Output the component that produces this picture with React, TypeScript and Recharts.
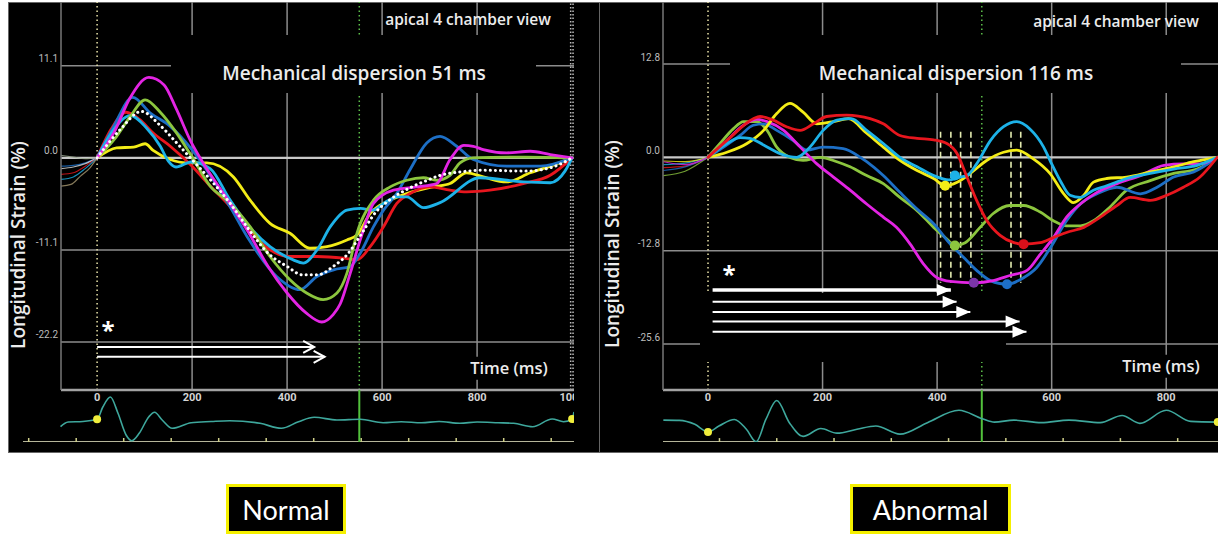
import { LineChart, Line, XAxis, YAxis, ReferenceLine, ReferenceDot } from 'recharts'

type Pt = [number, number]

// ---------- Normal (left): time (ms) vs longitudinal strain (%) ----------
const normalTimeTicks = [0, 200, 400, 600, 800, 1000]
const normalStrainTicks = [11.1, 0, -11.1, -22.2]
const normalGridTimes = [200, 400, 600, 800]
const normalAvcTime = 552
const normalEndTimes = [997, 1002]

const normalRed: Pt[] = [[0, 0], [30, 3.5], [61, 5.5], [90, 4.6], [118, 3.0], [154, 1.4], [198, -0.9], [238, -3.4], [279, -5.8], [319, -8.6], [364, -11.1], [406, -11.9], [463, -11.9], [519, -12.1], [547, -12.3], [575, -10.7], [603, -8.3], [631, -5.5], [659, -4.3], [701, -3.5], [743, -3.9], [778, -4.1], [827, -3.9], [897, -3.1], [954, -2.1], [1000, 0]]
const normalBlue: Pt[] = [[0, 0], [35, 3.8], [75, 7.3], [112, 5.4], [154, 3.8], [198, 1.1], [238, -2.1], [279, -5.8], [319, -9.8], [378, -14.3], [427, -15.9], [463, -14.3], [498, -13.5], [533, -13.1], [554, -11.5], [582, -8.3], [603, -6.3], [631, -4.3], [659, -1.4], [694, 1.8], [722, 2.6], [757, 1.4], [792, -0.2], [862, -1.0], [933, -1.0], [1000, 0]]
const normalCyan: Pt[] = [[0, 0], [30, 3.0], [70, 5.1], [104, 3.6], [133, 1.4], [150, -0.4], [166, -1.1], [198, -0.5], [238, -1.3], [279, -5.0], [319, -8.2], [364, -10.7], [413, -12.3], [434, -12.7], [463, -11.1], [491, -8.3], [526, -6.3], [554, -6.1], [582, -6.3], [603, -5.5], [631, -4.7], [652, -4.7], [687, -6.0], [722, -5.4], [806, -2.4], [897, -2.9], [954, -3.0], [985, -1.6], [1000, 0]]
const normalMagenta: Pt[] = [[0, 0], [36, 3.1], [69, 7.2], [109, 9.7], [141, 8.8], [166, 6.0], [198, 1.9], [222, -0.5], [279, -5.4], [319, -9.0], [360, -13.1], [400, -16.3], [440, -18.7], [473, -19.8], [497, -18.9], [512, -17.6], [533, -13.9], [554, -9.9], [582, -5.5], [624, -3.9], [673, -3.5], [715, -3.1], [743, -0.2], [772, 1.5], [792, 1.4], [813, 1.0], [862, 0.6], [912, 0.8], [954, 0.4], [1000, 0]]
const normalGreen: Pt[] = [[0, 0], [40, 2.5], [70, 5.0], [101, 7.0], [133, 5.5], [166, 3.1], [198, 0.3], [238, -3.4], [279, -5.4], [322, -8.3], [364, -11.9], [406, -14.7], [441, -16.3], [476, -17.1], [505, -16.3], [526, -13.9], [547, -9.1], [582, -5.1], [617, -3.5], [652, -2.7], [687, -2.4], [715, -2.7], [743, -2.1], [764, -0.6], [792, 0], [900, 0.1], [1000, 0]]
const normalYellow: Pt[] = [[0, 0], [41, 1.2], [77, 1.3], [101, 1.7], [118, 0.9], [154, -0.2], [189, -0.6], [231, -0.6], [287, -2.3], [322, -5.1], [364, -7.9], [406, -9.1], [448, -10.9], [484, -10.7], [526, -9.9], [547, -9.3], [575, -6.7], [617, -5.1], [652, -4.3], [707, -3.5], [743, -3.1], [778, -1.8], [813, -2.3], [862, -2.9], [912, -1.8], [954, -1.0], [1000, 0]]
const normalAverage: Pt[] = [[0, 0], [50, 3.5], [93, 5.6], [133, 3.9], [166, 1.9], [198, -0.1], [238, -2.6], [279, -5.4], [319, -8.6], [360, -11.5], [400, -13.1], [432, -14.1], [465, -14.1], [497, -13.1], [529, -11.5], [554, -9.4], [586, -6.6], [618, -5.0], [659, -3.6], [691, -2.8], [723, -2.1], [764, -1.7], [812, -1.5], [900, -1.6], [954, -1.2], [1000, 0]]

// pre-trigger segments (thin)
const normalTailGreen: Pt[] = [[-76, 0.3], [-50, 0.1], [-25, -0.1], [0, 0]]
const normalTailBlue: Pt[] = [[-76, -1.0], [-50, -0.9], [-25, -0.6], [0, 0]]
const normalTailWhite: Pt[] = [[-76, -1.3], [-50, -1.1], [-25, -0.7], [0, 0]]
const normalTailRed: Pt[] = [[-76, -2.0], [-50, -1.8], [-25, -1.0], [0, 0]]
const normalTailCyan: Pt[] = [[-76, -2.6], [-50, -2.3], [-25, -1.3], [0, 0]]
const normalTailTan: Pt[] = [[-76, -3.4], [-55, -3.2], [-35, -2.2], [-15, -1.2], [0, 0]]

const normalArrows: Pt[] = [[457, -22.8], [479, -24.0]] // [end time, level], all start at 0
const normalArrowStart = 0

const normalEcg: Pt[] = [[-77, -4.7], [-61, 0], [-30, 0.5], [0, 2.7], [12, 15], [28, 25], [44, 8.7], [61, -13], [73, -18.7], [89, -11], [109, 5.3], [121, 9.7], [137, 2], [158, -6.3], [198, -0.7], [240, 0.5], [279, 1.3], [343, -1.3], [388, -6.3], [424, 0.3], [457, 4.7], [505, 2], [554, 2.7], [602, -0.7], [640, 0.3], [683, -0.7], [720, 0.5], [764, -1.3], [800, 0], [844, -0.7], [877, -1.3], [917, -4.7], [958, 3], [982, 0.3], [1000, 3], [1004, 10]]
const normalEcgMarks: Pt[] = [[0, 2.7], [1000, 3]]
const normalEcgTicks = [-144, -44, 56, 156, 256, 356, 456, 556, 656, 756, 856, 956]

// ---------- Abnormal (right) ----------
const abnTimeTicks = [0, 200, 400, 600, 800]
const abnStrainTicks = [12.8, 0, -12.8, -25.6]
const abnGridTimes = [200, 400, 600, 800]
const abnAvcTime = 478

const abnYellow: Pt[] = [[0, 0], [33, 0.7], [68, 1.9], [97, 3.7], [120, 6.0], [143, 7.4], [166, 6.2], [190, 4.6], [219, 4.9], [245, 5.3], [277, 3.3], [306, 1.4], [335, -0.4], [365, -1.8], [394, -2.9], [414, -3.9], [435, -3.4], [458, -2.2], [487, -0.4], [516, 0.7], [539, 1.0], [568, -0.2], [597, -2.2], [621, -5.0], [638, -6.2], [656, -5.2], [673, -3.4], [696, -2.9], [731, -2.7], [772, -2.0], [813, -1.3], [848, -0.6], [889, 0]]
const abnCyan: Pt[] = [[0, 0], [33, 1.9], [56, 2.7], [73, 2.6], [97, 1.7], [126, 0.5], [155, 0], [178, 1.4], [201, 3.7], [225, 5.1], [250, 5.3], [277, 3.7], [306, 1.9], [335, 0], [365, -1.3], [394, -2.5], [420, -3.1], [440, -2.7], [452, -2.5], [469, -0.9], [493, 2.3], [516, 4.2], [539, 4.9], [562, 3.9], [586, 1.4], [597, -0.4], [615, -3.2], [632, -5.2], [650, -5.5], [673, -4.5], [696, -3.9], [731, -2.9], [772, -2.2], [813, -1.6], [854, -1.1], [889, 0]]
const abnRed: Pt[] = [[0, 0], [40, 2.8], [79, 5.3], [91, 5.6], [114, 5.1], [137, 4.2], [161, 3.7], [184, 4.6], [207, 5.6], [242, 5.8], [283, 5.3], [306, 4.6], [335, 3.0], [365, 2.6], [394, 2.4], [417, 1.9], [435, 0.5], [452, -2.7], [469, -5.9], [487, -8.7], [510, -10.7], [534, -11.7], [551, -11.9], [580, -11.7], [603, -11.0], [626, -10.3], [656, -9.6], [685, -8.2], [714, -6.6], [737, -5.5], [772, -5.9], [801, -5.2], [830, -4.1], [859, -2.7], [889, 0]]
const abnGreen: Pt[] = [[0, 0], [21, 1.9], [44, 3.9], [62, 4.9], [85, 4.9], [103, 3.7], [120, 1.4], [143, 0], [166, -0.4], [196, 0], [225, -0.6], [248, -1.3], [277, -2.5], [306, -3.6], [335, -5.5], [365, -7.3], [394, -9.6], [417, -11.2], [431, -12.1], [449, -11.7], [475, -9.6], [498, -7.7], [527, -6.6], [551, -6.6], [580, -7.5], [603, -8.7], [626, -9.4], [650, -9.4], [673, -8.7], [702, -6.8], [731, -4.5], [772, -3.2], [813, -2.2], [854, -1.6], [889, 0]]
const abnBlue: Pt[] = [[0, 0], [33, 1.7], [56, 3.0], [79, 4.4], [97, 4.6], [120, 3.7], [149, 2.3], [172, 1.0], [201, 1.4], [236, 1.2], [266, 0], [277, -0.6], [306, -2.5], [335, -4.8], [365, -7.1], [394, -9.1], [423, -11.9], [446, -13.7], [469, -15.5], [493, -16.9], [522, -17.4], [551, -16.5], [574, -15.1], [597, -12.5], [626, -8.7], [650, -6.4], [679, -5.0], [714, -4.1], [755, -5.0], [784, -4.1], [813, -2.7], [848, -2.0], [889, 0]]
const abnMagenta: Pt[] = [[0, 0], [33, 2.3], [62, 4.4], [85, 5.2], [103, 4.9], [132, 3.7], [161, 1.4], [190, -0.9], [219, -2.7], [245, -4.3], [277, -6.4], [306, -8.2], [329, -9.6], [353, -11.9], [376, -14.6], [400, -16.5], [423, -17.0], [464, -17.2], [498, -16.9], [527, -16.2], [557, -15.5], [580, -13.3], [603, -11.0], [626, -8.2], [650, -6.4], [679, -4.8], [714, -3.6], [755, -2.5], [796, -1.1], [830, -0.9], [859, -0.9], [889, 0]]

const abnTailRed: Pt[] = [[-78, -1.4], [-40, -1.2], [0, 0]]
const abnTailCyan: Pt[] = [[-78, -1.0], [-40, -0.8], [0, 0]]
const abnTailYellow: Pt[] = [[-78, -0.5], [-40, -0.6], [0, 0]]
const abnTailGreen: Pt[] = [[-78, -2.5], [-40, -1.9], [0, 0]]
const abnTailBlue: Pt[] = [[-78, -1.8], [-40, -1.3], [0, 0]]
const abnTailMagenta: Pt[] = [[-78, -0.6], [-40, -1.0], [0, 0]]

// time-to-peak markers
const abnPeakYellow: Pt = [414, -3.9]
const abnPeakCyan: Pt = [431, -2.5]
const abnPeakGreen: Pt = [431, -12.1]
const abnPeakPurple: Pt = [464, -17.2]
const abnPeakBlue: Pt = [522, -17.4]
const abnPeakRed: Pt = [551, -11.9]
const abnPeakDashTimes = [406, 424, 441, 459, 529, 546]
const abnPeakDashRange: Pt = [3.5, -17.2]

const abnArrows: Pt[] = [[424, -18.2], [434, -19.8], [458, -21.2], [544, -22.5], [556, -23.9]]
const abnArrowStart = 8

const abnEcg: Pt[] = [[-78, 0.3], [-50, 0], [-23, -4], [0, -11.7], [19, -5.7], [46, 1], [67, -9], [84, -21.7], [101, 1], [120, 20.3], [142, -2.3], [166, -16.3], [197, -8.3], [225, -13], [260, -9], [293, -5.7], [335, -14], [383, -2.3], [438, 10.3], [479, 1.7], [500, -1.7], [534, 0.3], [582, -2.3], [630, 0.3], [685, -2.3], [723, 5], [754, -3], [800, 10.3], [843, -1], [890, -1.7]]
const abnEcgMarks: Pt[] = [[0, -11.7], [890, -1.7]]
const abnEcgTicks = [20, 120, 220, 320, 420, 520, 620, 720, 820]

// ---------- styling ----------
const C = {
  red: '#e8161e',
  blue: '#1d6fc6',
  cyan: '#1db2e8',
  magenta: '#e324e3',
  green: '#8cc63e',
  yellow: '#f3ec17',
  white: '#ffffff',
  tan: '#a89870',
  purple: '#7b35a8',
  grid: '#8c8c8c',
  zero: '#c8c8c8',
  ecg: '#3ea79c',
}

const TOP = 2
const PLOT_H = 388
const XAXIS_H = 20
const ECG_TOP = 390
const ECG_H = 52
const TICK_FONT = "'Liberation Sans Narrow', 'Arial Narrow', Roboto, sans-serif"
const TEXT_FONT = "'Open Sans', 'Noto Sans', sans-serif"

interface Series { color: string; pts: Pt[]; dotted?: boolean }
interface PanelCfg {
  left: number
  width: number
  axisW: number
  xDomain: [number, number]
  yDomain: [number, number]
  xTicks: number[]
  yTicks: number[]
  gridTimes: number[]
  avcTime: number
  endTimes: number[]
  tails: Series[]
  series: Series[]
  markers: { pt: Pt; color: string }[]
  dashTimes: number[]
  dashRange: Pt
  arrows: Pt[]
  arrowStart: number
  filledHeads: boolean
  ecg: Pt[]
  ecgMarks: Pt[]
  ecgTicks: number[]
  ecgLeft: number
  ecgAxisW: number
  ecgXDomain: [number, number]
  ecgYDomain: [number, number]
}

const rows = (pts: Pt[]) => pts.map(([t, v]) => ({ t, v }))

const arrowHead = (filled: boolean) => (p: any) => {
  const { cx, cy, index } = p
  if (index !== 1 || cx == null) return <g key={`n${index}`} />
  return filled ? (
    <path key="h" d={`M${cx - 14},${cy - 6} L${cx},${cy} L${cx - 14},${cy + 6} Z`} fill="#fff" />
  ) : (
    <path key="h" d={`M${cx - 11},${cy - 6} L${cx},${cy} L${cx - 11},${cy + 6}`} fill="none" stroke="#fff" strokeWidth={2} />
  )
}

function StrainPanel({ cfg }: { cfg: PanelCfg }) {
  const chartH = PLOT_H + XAXIS_H
  return (
    <>
      {/* main strain chart */}
      <div style={{ position: 'absolute', left: cfg.left, top: TOP }}>
        <LineChart width={cfg.width} height={chartH} margin={{ top: 0, right: 0, bottom: 0, left: 0 }}>
          <XAxis
            type="number"
            dataKey="t"
            domain={cfg.xDomain}
            allowDataOverflow
            ticks={cfg.xTicks}
            interval={0}
            height={XAXIS_H}
            tickLine={false}
            tickSize={0}
            tickMargin={3}
            axisLine={{ stroke: '#a3a3a3', strokeWidth: 2.5 }}
            tick={{ fill: '#d4d4d4', fontSize: 11, fontWeight: 700, fontFamily: TICK_FONT }}
          />
          <YAxis
            type="number"
            domain={cfg.yDomain}
            allowDataOverflow
            ticks={cfg.yTicks}
            interval={0}
            width={cfg.axisW}
            tickLine={false}
            tickSize={0}
            tickMargin={3}
            tickFormatter={(v: number) => v.toFixed(1)}
            axisLine={{ stroke: '#777', strokeWidth: 1.5 }}
            tick={{ fill: '#bdbdbd', fontSize: 10, fontFamily: TICK_FONT, dy: -7 }}
          />
          {cfg.gridTimes.map((t) => (
            <ReferenceLine key={`gx${t}`} x={t} stroke={C.grid} strokeWidth={1.5} />
          ))}
          {cfg.yTicks.map((v) => (
            <ReferenceLine key={`gy${v}`} y={v} stroke={v === 0 ? C.zero : C.grid} strokeWidth={v === 0 ? 2.2 : 1.5} />
          ))}
          <ReferenceLine x={0} stroke="#e8e2a8" strokeWidth={1.5} strokeDasharray="1.5 3" />
          <ReferenceLine x={cfg.avcTime} stroke="#5cbf4a" strokeWidth={1.5} strokeDasharray="1.5 3" />
          {cfg.endTimes.map((t) => (
            <ReferenceLine key={`e${t}`} x={t} stroke="#bbb" strokeWidth={1.5} strokeDasharray="1.5 2" />
          ))}
          {cfg.dashTimes.map((t) => (
            <ReferenceLine
              key={`d${t}`}
              segment={[{ x: t, y: cfg.dashRange[0] }, { x: t, y: cfg.dashRange[1] }]}
              stroke="#e3ebb0"
              strokeWidth={1.6}
              strokeDasharray="6 4"
            />
          ))}
          {cfg.tails.map((s, i) => (
            <Line
              key={`tail${i}`}
              data={rows(s.pts)}
              dataKey="v"
              type="monotone"
              stroke={s.color}
              strokeWidth={1.2}
              strokeOpacity={0.8}
              dot={false}
              isAnimationActive={false}
            />
          ))}
          {cfg.series.map((s, i) => (
            <Line
              key={`s${i}`}
              data={rows(s.pts)}
              dataKey="v"
              type="monotone"
              stroke={s.color}
              strokeWidth={s.dotted ? 3 : 2.8}
              strokeDasharray={s.dotted ? '0.1 5' : undefined}
              strokeLinecap="round"
              dot={false}
              isAnimationActive={false}
            />
          ))}
          {cfg.markers.map((m, i) => (
            <ReferenceDot key={`m${i}`} x={m.pt[0]} y={m.pt[1]} r={5} fill={m.color} stroke="none" />
          ))}
        </LineChart>
      </div>

      {/* ECG strip */}
      <div style={{ position: 'absolute', left: cfg.ecgLeft, top: ECG_TOP }}>
        <LineChart width={cfg.width + cfg.left - cfg.ecgLeft} height={ECG_H} margin={{ top: 0, right: 0, bottom: 0, left: 0 }}>
          <XAxis type="number" dataKey="t" domain={cfg.ecgXDomain} allowDataOverflow hide />
          <YAxis type="number" domain={cfg.ecgYDomain} allowDataOverflow width={cfg.ecgAxisW} tick={false} axisLine={false} tickLine={false} />
          <ReferenceLine y={cfg.ecgYDomain[0]} stroke="#b5b59a" strokeWidth={2} />
          {cfg.ecgTicks.map((t) => (
            <ReferenceLine
              key={`et${t}`}
              segment={[{ x: t, y: cfg.ecgYDomain[0] }, { x: t, y: cfg.ecgYDomain[0] + 4 }]}
              stroke="#d0d08a"
              strokeWidth={1.5}
            />
          ))}
          <ReferenceLine x={cfg.avcTime} stroke="#52c23c" strokeWidth={2} />
          <Line data={rows(cfg.ecg)} dataKey="v" type="monotone" stroke={C.ecg} strokeWidth={1.6} dot={false} isAnimationActive={false} />
          {cfg.ecgMarks.map((m, i) => (
            <ReferenceDot key={`em${i}`} x={m[0]} y={m[1]} r={4} fill="#f0ee3c" stroke="none" />
          ))}
        </LineChart>
      </div>
    </>
  )
}

function ArrowLayer({ cfg }: { cfg: PanelCfg }) {
  return (
    <div style={{ position: 'absolute', left: cfg.left, top: TOP }}>
      <LineChart width={cfg.width} height={PLOT_H + XAXIS_H} margin={{ top: 0, right: 0, bottom: 0, left: 0 }}>
        <XAxis type="number" dataKey="t" domain={cfg.xDomain} allowDataOverflow height={XAXIS_H} tick={false} axisLine={false} tickLine={false} />
        <YAxis type="number" domain={cfg.yDomain} allowDataOverflow width={cfg.axisW} tick={false} axisLine={false} tickLine={false} />
        {cfg.arrows.map(([end, v], i) => (
          <Line
            key={`ar${i}`}
            data={rows([[cfg.arrowStart, v], [end, v]])}
            dataKey="v"
            type="linear"
            stroke="#fff"
            strokeWidth={cfg.filledHeads && i === 0 ? 3.5 : 2}
            dot={arrowHead(cfg.filledHeads)}
            isAnimationActive={false}
          />
        ))}
      </LineChart>
    </div>
  )
}

const normalCfg: PanelCfg = {
  left: 9,
  width: 565,
  axisW: 52,
  xDomain: [-76, 1004],
  yDomain: [-28, 18.8],
  xTicks: normalTimeTicks,
  yTicks: normalStrainTicks,
  gridTimes: normalGridTimes,
  avcTime: normalAvcTime,
  endTimes: normalEndTimes,
  tails: [
    { color: '#9aa890', pts: normalTailGreen },
    { color: C.blue, pts: normalTailBlue },
    { color: '#dddddd', pts: normalTailWhite },
    { color: C.red, pts: normalTailRed },
    { color: C.cyan, pts: normalTailCyan },
    { color: C.tan, pts: normalTailTan },
  ],
  series: [
    { color: C.yellow, pts: normalYellow },
    { color: C.red, pts: normalRed },
    { color: C.blue, pts: normalBlue },
    { color: C.cyan, pts: normalCyan },
    { color: C.green, pts: normalGreen },
    { color: C.magenta, pts: normalMagenta },
    { color: C.white, pts: normalAverage, dotted: true },
  ],
  markers: [],
  dashTimes: [],
  dashRange: [0, 0],
  arrows: normalArrows,
  arrowStart: normalArrowStart,
  filledHeads: false,
  ecg: normalEcg,
  ecgMarks: normalEcgMarks,
  ecgTicks: normalEcgTicks,
  ecgLeft: 9,
  ecgAxisW: 14,
  ecgXDomain: [-156, 1004],
  ecgYDomain: [-20, 32],
}

const abnormalCfg: PanelCfg = {
  left: 600,
  width: 618,
  axisW: 63,
  xDomain: [-78.6, 890.4],
  yDomain: [-31.9, 21.3],
  xTicks: abnTimeTicks,
  yTicks: abnStrainTicks,
  gridTimes: abnGridTimes,
  avcTime: abnAvcTime,
  endTimes: [],
  tails: [
    { color: C.red, pts: abnTailRed },
    { color: C.cyan, pts: abnTailCyan },
    { color: C.yellow, pts: abnTailYellow },
    { color: C.green, pts: abnTailGreen },
    { color: C.blue, pts: abnTailBlue },
    { color: C.magenta, pts: abnTailMagenta },
  ],
  series: [
    { color: C.green, pts: abnGreen },
    { color: C.blue, pts: abnBlue },
    { color: C.magenta, pts: abnMagenta },
    { color: C.yellow, pts: abnYellow },
    { color: C.cyan, pts: abnCyan },
    { color: C.red, pts: abnRed },
  ],
  markers: [
    { pt: abnPeakYellow, color: C.yellow },
    { pt: abnPeakCyan, color: C.cyan },
    { pt: abnPeakGreen, color: C.green },
    { pt: abnPeakPurple, color: C.purple },
    { pt: abnPeakBlue, color: C.blue },
    { pt: abnPeakRed, color: '#d8101a' },
  ],
  dashTimes: abnPeakDashTimes,
  dashRange: abnPeakDashRange,
  arrows: abnArrows,
  arrowStart: abnArrowStart,
  filledHeads: true,
  ecg: abnEcg,
  ecgMarks: abnEcgMarks,
  ecgTicks: abnEcgTicks,
  ecgLeft: 600,
  ecgAxisW: 63,
  ecgXDomain: [-78.6, 890.4],
  ecgYDomain: [-22, 31],
}

const txt = (x: number, y: number, size: number, extra: React.CSSProperties = {}): React.CSSProperties => ({
  position: 'absolute',
  left: x,
  top: y,
  transform: 'translate(-50%, -50%)',
  whiteSpace: 'nowrap',
  fontFamily: TEXT_FONT,
  fontWeight: 600,
  fontSize: size,
  color: '#ececec',
  lineHeight: 1,
  ...extra,
})

const blackBox = (x: number, y: number, w: number, h: number): React.CSSProperties => ({
  position: 'absolute',
  left: x,
  top: y,
  width: w,
  height: h,
  background: '#000',
})

const labelBox = (x: number, w: number): React.CSSProperties => ({
  position: 'absolute',
  left: x,
  top: 484,
  width: w,
  height: 50,
  boxSizing: 'border-box',
  border: '3px solid #f5f000',
  background: '#000',
  color: '#fff',
  fontFamily: "Lato, 'Open Sans', sans-serif",
  fontSize: 27,
  display: 'flex',
  alignItems: 'center',
  justifyContent: 'center',
})

export default function App() {
  return (
    <div style={{ position: 'absolute', left: 0, top: 0, width: 1218, height: 537, background: '#fff', overflow: 'hidden' }}>
      <div style={{ ...blackBox(9, 3, 591, 449), boxShadow: '0 0 0 1px #666' }} />
      <div style={{ ...blackBox(600, 3, 618, 449), boxShadow: '0 0 0 1px #666' }} />

      <StrainPanel cfg={normalCfg} />
      <StrainPanel cfg={abnormalCfg} />

      {/* covers behind the titles and the arrows */}
      <div style={blackBox(171, 35, 365, 58)} />
      <div style={blackBox(730, 35, 451, 58)} />
      <div style={blackBox(700, 293, 306, 69)} />

      <div style={txt(468, 20, 15.5)}>apical 4 chamber view</div>
      <div style={txt(1116, 22, 15.5)}>apical 4 chamber view</div>
      <div style={txt(354, 73, 19)}>Mechanical dispersion 51 ms</div>
      <div style={txt(956, 73, 19)}>Mechanical dispersion 116 ms</div>
      <div style={txt(18, 245, 19, { transform: 'translate(-50%, -50%) rotate(-90deg)' })}>Longitudinal Strain (%)</div>
      <div style={txt(612, 244, 19, { transform: 'translate(-50%, -50%) rotate(-90deg)' })}>Longitudinal Strain (%)</div>
      <div style={txt(509, 368, 16.5, { background: '#000', padding: '3px 5px' })}>Time (ms)</div>
      <div style={txt(1161, 366, 16.5, { background: '#000', padding: '3px 5px' })}>Time (ms)</div>
      <div style={txt(108, 330, 24, { fontWeight: 700, color: '#fff' })}>*</div>
      <div style={txt(729, 274, 24, { fontWeight: 700, color: '#fff' })}>*</div>

      <ArrowLayer cfg={normalCfg} />
      <ArrowLayer cfg={abnormalCfg} />

      <div style={labelBox(226, 120)}>Normal</div>
      <div style={labelBox(850, 161)}>Abnormal</div>
    </div>
  )
}
